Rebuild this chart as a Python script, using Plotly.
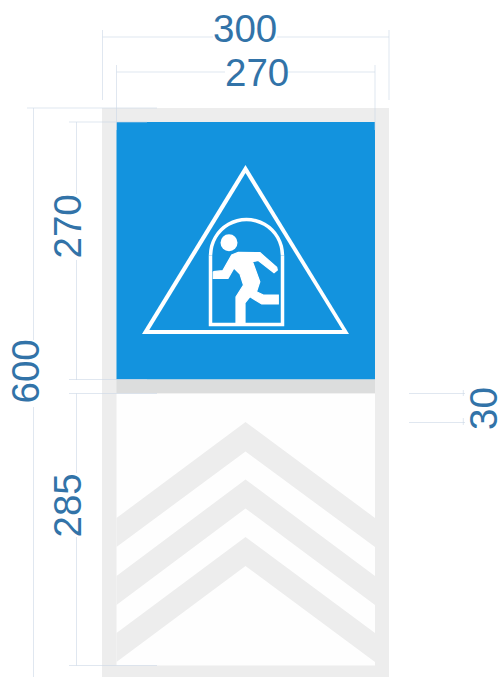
import plotly.graph_objects as go

FONT = "Liberation Sans"
TEXT_COLOR = "#3273a8"
DIM_COLOR = "rgba(205,216,230,0.62)"
FRAME = "#ededed"
BLUE = "#1393de"
WHITE = "#ffffff"

# Sign geometry (px)
frame_x = [102, 389, 389, 102, 102]
frame_y = [108, 108, 677, 677, 108]
blue_x = [116.5, 375, 375, 116.5, 116.5]
blue_y = [122, 122, 379.5, 379.5, 122]
band_x = [116.5, 375, 375, 116.5, 116.5]
band_y = [379.5, 379.5, 393.5, 393.5, 379.5]
panel_x = [116.5, 375, 375, 116.5, 116.5]
panel_y = [393.5, 393.5, 665.5, 665.5, 393.5]

chevron_x = [116.5, 245.5, 375, 375, 245.5, 116.5, 116.5]
chevron1_y = [518, 422, 518, 547, 451.5, 547, 518]
chevron2_y = [576, 479.5, 576, 605, 508.5, 605, 576]
chevron3_y = [633, 537, 633, 662, 566, 662, 633]

tri_outer_x = [245.5, 349, 142, 245.5]
tri_outer_y = [165, 334, 334, 165]
tri_inner_x = [245.5, 342.3, 149.3, 245.5]
tri_inner_y = [173, 330, 330, 173]

door_arc_x = [210.5, 211.7, 215.3, 221, 228.5, 237.2, 246.5, 255.8, 264.5, 272, 277.7, 281.3, 282.5]
door_arc_y = [255.5, 246.2, 237.5, 230, 224.3, 220.7, 219.5, 220.7, 224.3, 230, 237.5, 246.2, 255.5]
door_x = [210.5, 210.5, 282.5, 282.5]
door_y = [255.5, 324.5, 324.5, 255.5]

person_x = [213.3, 222.7, 231.7, 238.3, 260, 276.7, 277.3, 274, 258.3, 252.5, 259.8, 256.5, 263.3,
            278.3, 278.3, 261.7, 250, 245, 245, 236, 236, 243.5, 240, 234, 228, 213.3, 213.3]
person_y = [271.7, 270.7, 255, 252.3, 252.7, 267.3, 270, 272.7, 260.5, 261.7, 281.7, 291.7, 295,
            295, 304, 304, 296.7, 303, 322.7, 322.7, 297, 285, 274, 268, 278.3, 278.3, 271.7]
head_x = [229]
head_y = [242.7]

# Dimension lines (None breaks the line behind a label)
dim_h = [
    ([102.5, 213, None, 277, 389], 37),
    ([116.5, 225, None, 288, 375], 72),
    ([27, 157], 108),
    ([69, 147], 122),
    ([69, 147], 379.5),
    ([69, 157], 393.5),
    ([69, 157], 665.5),
    ([409, 465], 393.5),
    ([409, 465], 422.5),
]
dim_v = [
    (102.5, [30, 100]),
    (389, [30, 100]),
    (116.5, [65, 130]),
    (375, [65, 130]),
    (33.5, [108, 340, None, 407, 677]),
    (76.5, [122, 194, None, 260, 380]),
    (76.5, [393.5, 473, None, 537, 665.5]),
    (463.3, [390, 396]),
    (463.3, [418, 425]),
]

labels = ["300", "270", "270", "600", "285", "30"]
label_x = [244.5, 256.5, 67, 24.5, 67, 483]
label_y = [28.5, 72, 226.5, 372, 505.5, 409]
label_angle = [0, 0, -90, -90, -90, -90]

fig = go.Figure()


def poly(x, y, color, edge=0):
    fig.add_trace(go.Scatter(x=x, y=y, mode="lines", fill="toself", fillcolor=color,
                             line=dict(width=edge, color=color), hoverinfo="skip", showlegend=False))


poly(frame_x, frame_y, FRAME)
poly(blue_x, blue_y, BLUE)
poly(band_x, band_y, "#dcdddd")
poly(panel_x, panel_y, "#fefefe")
poly(chevron_x, chevron1_y, FRAME)
poly(chevron_x, chevron2_y, FRAME)
poly(chevron_x, chevron3_y, FRAME)
poly(tri_outer_x, tri_outer_y, WHITE)
poly(tri_inner_x, tri_inner_y, BLUE)
poly(person_x, person_y, WHITE, edge=1.2)

fig.add_trace(go.Scatter(x=door_arc_x, y=door_arc_y, mode="lines",
                         line=dict(color=WHITE, width=3.5, shape="spline"),
                         hoverinfo="skip", showlegend=False))
fig.add_trace(go.Scatter(x=door_x, y=door_y, mode="lines",
                         line=dict(color=WHITE, width=3.5),
                         hoverinfo="skip", showlegend=False))
fig.add_trace(go.Scatter(x=head_x, y=head_y, mode="markers",
                         marker=dict(color=WHITE, size=17, line=dict(width=0)),
                         hoverinfo="skip", showlegend=False))

for xs, y in dim_h:
    fig.add_trace(go.Scatter(x=xs, y=[None if v is None else y for v in xs], mode="lines",
                             line=dict(color=DIM_COLOR, width=1), hoverinfo="skip", showlegend=False))
for x, ys in dim_v:
    fig.add_trace(go.Scatter(x=[None if v is None else x for v in ys], y=ys, mode="lines",
                             line=dict(color=DIM_COLOR, width=1), hoverinfo="skip", showlegend=False))

for t, x, y, a in zip(labels, label_x, label_y, label_angle):
    fig.add_annotation(x=x, y=y, xref="x", yref="y", text=t, textangle=a, showarrow=False,
                       xanchor="center", yanchor="middle",
                       font=dict(family=FONT, size=38.5, color=TEXT_COLOR))

fig.update_layout(
    width=498, height=677, margin=dict(l=0, r=0, t=0, b=0),
    paper_bgcolor="white", plot_bgcolor="white", showlegend=False,
    xaxis=dict(range=[0, 498], visible=False, fixedrange=True),
    yaxis=dict(range=[677, 0], visible=False, fixedrange=True),
)
fig.write_html("out.html", config=dict(displayModeBar=False),
               post_script="document.body.style.margin='0';document.body.style.overflow='hidden';")
